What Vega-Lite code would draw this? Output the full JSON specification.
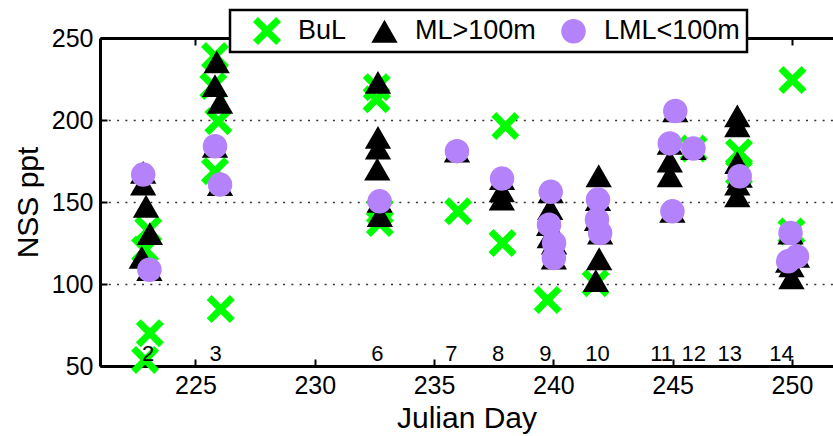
{
  "$schema": "https://vega.github.io/schema/vega-lite/v6.json",
  "width": 733,
  "height": 328,
  "autosize": {"type": "none"},
  "padding": {"left": 100, "top": 38, "right": 0, "bottom": 70},
  "config": {
    "font": "Liberation Sans",
    "view": {"stroke": null},
    "axis": {
      "domainColor": "black",
      "domainWidth": 3,
      "tickColor": "black",
      "tickWidth": 2,
      "tickSize": -7,
      "labelColor": "black",
      "labelFontSize": 25,
      "labelFlush": false,
      "labelOverlap": false,
      "titleColor": "black",
      "titleFontSize": 30,
      "titleFontWeight": "normal"
    },
    "legend": {
      "orient": "none",
      "legendX": 130,
      "legendY": -28,
      "direction": "horizontal",
      "title": null,
      "labelFontSize": 27,
      "labelColor": "black",
      "labelOffset": 17,
      "columnPadding": 8,
      "padding": 7,
      "strokeColor": "black",
      "strokeWidth": 2.5,
      "fillColor": "white",
      "symbolStrokeWidth": 0,
      "symbolOpacity": 1,
      "symbolOffset": 16
    }
  },
  "layer": [
    {
      "data": {
        "values": [
          {"day": 223.02, "val": 133, "grp": "BuL"},
          {"day": 222.89, "val": 121, "grp": "BuL"},
          {"day": 223.09, "val": 70, "grp": "BuL"},
          {"day": 222.89, "val": 53.7, "grp": "BuL"},
          {"day": 225.82, "val": 239, "grp": "BuL"},
          {"day": 225.75, "val": 220.7, "grp": "BuL"},
          {"day": 225.96, "val": 199.3, "grp": "BuL"},
          {"day": 225.82, "val": 168.8, "grp": "BuL"},
          {"day": 226.06, "val": 84.7, "grp": "BuL"},
          {"day": 232.6, "val": 220, "grp": "BuL"},
          {"day": 232.59, "val": 212.6, "grp": "BuL"},
          {"day": 232.73, "val": 144.3, "grp": "BuL"},
          {"day": 232.73, "val": 137.2, "grp": "BuL"},
          {"day": 236.01, "val": 144.3, "grp": "BuL"},
          {"day": 237.99, "val": 196.3, "grp": "BuL"},
          {"day": 237.87, "val": 125, "grp": "BuL"},
          {"day": 239.76, "val": 90.3, "grp": "BuL"},
          {"day": 241.77, "val": 100.5, "grp": "BuL"},
          {"day": 245.88, "val": 182.6, "grp": "BuL"},
          {"day": 247.78, "val": 180.4, "grp": "BuL"},
          {"day": 247.78, "val": 168, "grp": "BuL"},
          {"day": 250.02, "val": 224.4, "grp": "BuL"},
          {"day": 249.98, "val": 132, "grp": "BuL"},

          {"day": 222.81, "val": 168, "grp": "ML>100m"},
          {"day": 222.81, "val": 160.9, "grp": "ML>100m"},
          {"day": 222.93, "val": 147.4, "grp": "ML>100m"},
          {"day": 223.09, "val": 130.7, "grp": "ML>100m"},
          {"day": 222.75, "val": 116.3, "grp": "ML>100m"},
          {"day": 223.07, "val": 108.7, "grp": "ML>100m"},
          {"day": 225.89, "val": 235.5, "grp": "ML>100m"},
          {"day": 225.82, "val": 221, "grp": "ML>100m"},
          {"day": 226.03, "val": 210.7, "grp": "ML>100m"},
          {"day": 225.82, "val": 184, "grp": "ML>100m"},
          {"day": 226.03, "val": 160.6, "grp": "ML>100m"},
          {"day": 232.65, "val": 223, "grp": "ML>100m"},
          {"day": 232.65, "val": 189.4, "grp": "ML>100m"},
          {"day": 232.65, "val": 182.9, "grp": "ML>100m"},
          {"day": 232.62, "val": 170, "grp": "ML>100m"},
          {"day": 232.72, "val": 150.4, "grp": "ML>100m"},
          {"day": 232.73, "val": 141.7, "grp": "ML>100m"},
          {"day": 235.96, "val": 181, "grp": "ML>100m"},
          {"day": 237.85, "val": 164.3, "grp": "ML>100m"},
          {"day": 237.84, "val": 156.8, "grp": "ML>100m"},
          {"day": 237.84, "val": 151.7, "grp": "ML>100m"},
          {"day": 239.89, "val": 156.2, "grp": "ML>100m"},
          {"day": 239.87, "val": 146, "grp": "ML>100m"},
          {"day": 239.82, "val": 136.2, "grp": "ML>100m"},
          {"day": 239.85, "val": 128.8, "grp": "ML>100m"},
          {"day": 240.03, "val": 125, "grp": "ML>100m"},
          {"day": 240.02, "val": 115.8, "grp": "ML>100m"},
          {"day": 241.9, "val": 166, "grp": "ML>100m"},
          {"day": 241.87, "val": 151.5, "grp": "ML>100m"},
          {"day": 241.83, "val": 139.2, "grp": "ML>100m"},
          {"day": 241.96, "val": 131.1, "grp": "ML>100m"},
          {"day": 241.92, "val": 115.4, "grp": "ML>100m"},
          {"day": 241.78, "val": 102, "grp": "ML>100m"},
          {"day": 245.11, "val": 205.5, "grp": "ML>100m"},
          {"day": 244.88, "val": 185.7, "grp": "ML>100m"},
          {"day": 244.88, "val": 175, "grp": "ML>100m"},
          {"day": 244.88, "val": 166, "grp": "ML>100m"},
          {"day": 244.99, "val": 144.3, "grp": "ML>100m"},
          {"day": 245.87, "val": 182.6, "grp": "ML>100m"},
          {"day": 247.71, "val": 202.5, "grp": "ML>100m"},
          {"day": 247.71, "val": 196.5, "grp": "ML>100m"},
          {"day": 247.71, "val": 174, "grp": "ML>100m"},
          {"day": 247.81, "val": 165.7, "grp": "ML>100m"},
          {"day": 247.71, "val": 160.9, "grp": "ML>100m"},
          {"day": 247.71, "val": 153.7, "grp": "ML>100m"},
          {"day": 249.94, "val": 131.1, "grp": "ML>100m"},
          {"day": 249.84, "val": 113.8, "grp": "ML>100m"},
          {"day": 250.21, "val": 116.8, "grp": "ML>100m"},
          {"day": 249.98, "val": 111, "grp": "ML>100m"},
          {"day": 249.98, "val": 103.8, "grp": "ML>100m"},

          {"day": 222.81, "val": 166.7, "grp": "LML<100m"},
          {"day": 223.07, "val": 108.7, "grp": "LML<100m"},
          {"day": 225.82, "val": 184, "grp": "LML<100m"},
          {"day": 226.03, "val": 160.6, "grp": "LML<100m"},
          {"day": 232.72, "val": 150.4, "grp": "LML<100m"},
          {"day": 235.96, "val": 181, "grp": "LML<100m"},
          {"day": 237.85, "val": 164.3, "grp": "LML<100m"},
          {"day": 239.89, "val": 156.2, "grp": "LML<100m"},
          {"day": 239.82, "val": 136.2, "grp": "LML<100m"},
          {"day": 240.03, "val": 125, "grp": "LML<100m"},
          {"day": 240.02, "val": 115.8, "grp": "LML<100m"},
          {"day": 241.87, "val": 151.5, "grp": "LML<100m"},
          {"day": 241.83, "val": 139.2, "grp": "LML<100m"},
          {"day": 241.96, "val": 131.1, "grp": "LML<100m"},
          {"day": 245.11, "val": 205.5, "grp": "LML<100m"},
          {"day": 244.88, "val": 185.7, "grp": "LML<100m"},
          {"day": 244.99, "val": 144.3, "grp": "LML<100m"},
          {"day": 245.87, "val": 182.6, "grp": "LML<100m"},
          {"day": 247.81, "val": 165.7, "grp": "LML<100m"},
          {"day": 249.94, "val": 131.1, "grp": "LML<100m"},
          {"day": 249.84, "val": 113.8, "grp": "LML<100m"},
          {"day": 250.21, "val": 116.8, "grp": "LML<100m"}
        ]
      },
      "mark": {"type": "point", "filled": true, "opacity": 1, "strokeWidth": 0},
      "encoding": {
        "x": {
          "field": "day",
          "type": "quantitative",
          "scale": {"domain": [221, 251.72], "nice": false, "zero": false},
          "axis": {
            "orient": "bottom",
            "values": [225, 230, 235, 240, 245, 250],
            "grid": false,
            "title": "Julian Day",
            "labelPadding": 14,
            "titlePadding": 5
          }
        },
        "y": {
          "field": "val",
          "type": "quantitative",
          "scale": {"domain": [50, 250], "nice": false, "zero": false},
          "axis": {
            "values": [50, 100, 150, 200, 250],
            "title": "NSS ppt",
            "grid": true,
            "gridColor": "#333333",
            "gridWidth": 1.3,
            "gridDash": [2, 6.3],
            "labelPadding": 14,
            "titlePadding": 8
          }
        },
        "color": {
          "field": "grp",
          "type": "nominal",
          "scale": {"domain": ["BuL", "ML>100m", "LML<100m"], "range": ["#00ff00", "#000000", "#b482fa"]}
        },
        "shape": {
          "field": "grp",
          "type": "nominal",
          "scale": {
            "domain": ["BuL", "ML>100m", "LML<100m"],
            "range": ["M-1,-0.65L-0.65,-1L0,-0.35L0.65,-1L1,-0.65L0.35,0L1,0.65L0.65,1L0,0.35L-0.65,1L-1,0.65L-0.35,0Z", "triangle-up", "circle"]
          }
        },
        "size": {
          "field": "grp",
          "type": "nominal",
          "scale": {"domain": ["BuL", "ML>100m", "LML<100m"], "range": [784, 600, 500]}
        }
      }
    },
    {
      "data": {
        "values": [
          {"day": 223.02, "val": 53.2, "lbl": "2"},
          {"day": 225.85, "val": 53.2, "lbl": "3"},
          {"day": 232.62, "val": 53.2, "lbl": "6"},
          {"day": 235.73, "val": 53.2, "lbl": "7"},
          {"day": 237.69, "val": 53.2, "lbl": "8"},
          {"day": 239.67, "val": 53.2, "lbl": "9"},
          {"day": 241.85, "val": 53.2, "lbl": "10"},
          {"day": 244.54, "val": 53.2, "lbl": "11"},
          {"day": 245.88, "val": 53.2, "lbl": "12"},
          {"day": 247.39, "val": 53.2, "lbl": "13"},
          {"day": 249.56, "val": 53.2, "lbl": "14"}
        ]
      },
      "mark": {"type": "text", "fontSize": 22, "baseline": "alphabetic", "align": "center", "color": "black"},
      "encoding": {
        "x": {
          "field": "day",
          "type": "quantitative",
          "axis": {
            "orient": "top",
            "values": [225, 230, 235, 240, 245, 250],
            "labels": false,
            "grid": false,
            "title": null
          }
        },
        "y": {"field": "val", "type": "quantitative", "axis": {"title": "NSS ppt"}},
        "text": {"field": "lbl"}
      }
    }
  ],
  "resolve": {"axis": {"x": "independent"}}
}
